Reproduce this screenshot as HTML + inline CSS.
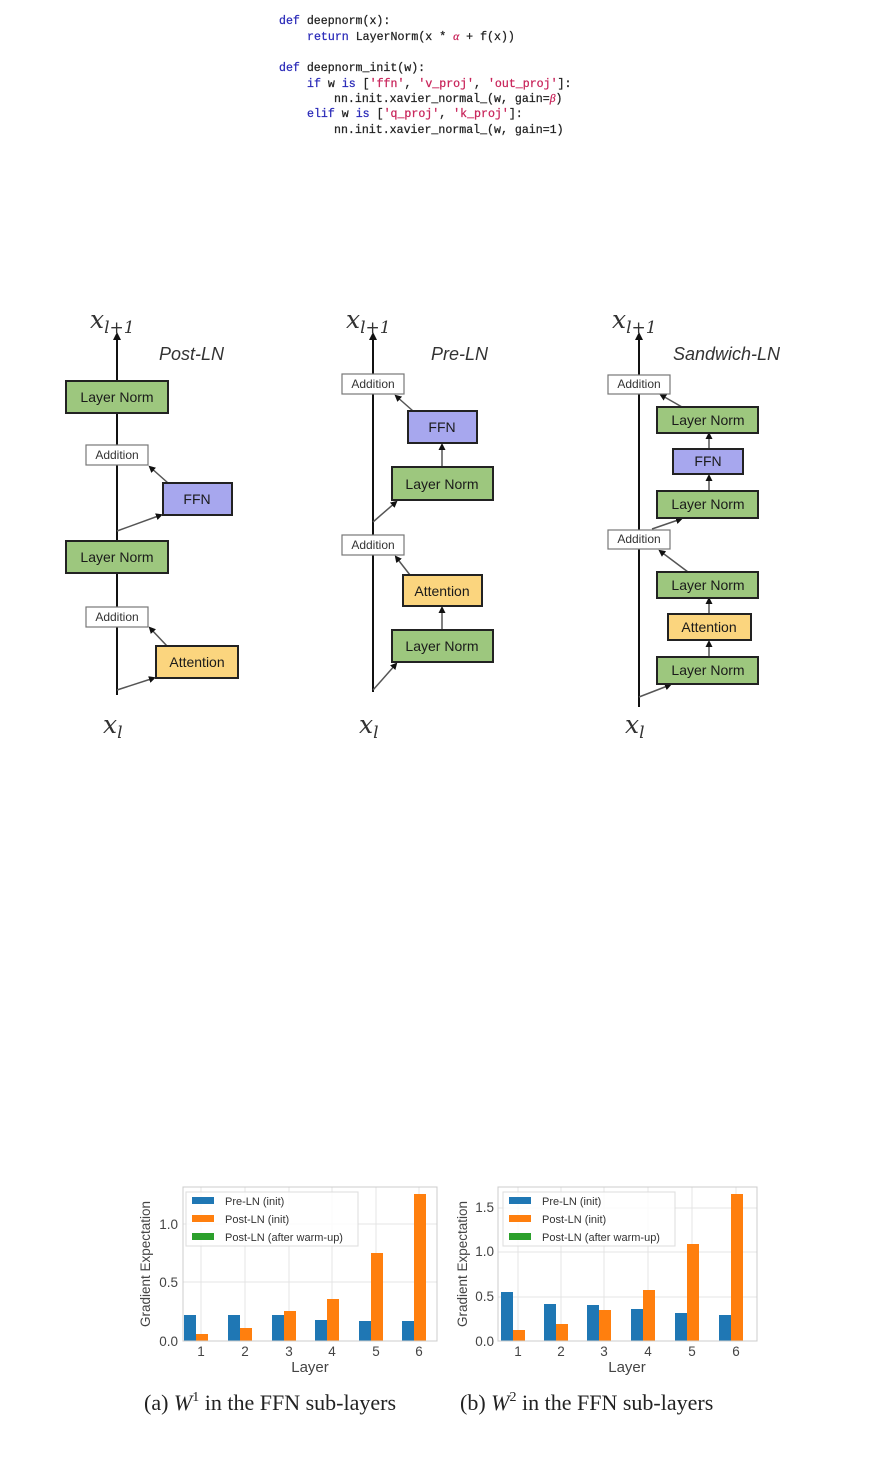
<!DOCTYPE html>
<html><head><meta charset="utf-8"><style>
html,body{margin:0;padding:0;background:#fff;}
svg{display:block;}
.code{font-family:"Liberation Mono",monospace;font-size:11.6px;fill:#222;stroke:#222;stroke-width:0.25px;}
.kw{fill:#2a2ab8;stroke:#2a2ab8;}
.st{fill:#c8245a;stroke:#c8245a;}
.bx{font-family:"Liberation Sans",sans-serif;font-size:14px;fill:#1a1a1a;text-anchor:middle;}
.sm{font-family:"Liberation Sans",sans-serif;font-size:12px;fill:#333;text-anchor:middle;}
.math{font-family:"DejaVu Serif","Liberation Serif",serif;font-style:italic;fill:#333;}
.ttl{font-family:"Liberation Sans",sans-serif;font-style:italic;font-size:18px;fill:#333;}
.ax{font-family:"Liberation Sans",sans-serif;font-size:13.5px;fill:#444;}
.lg{font-family:"Liberation Sans",sans-serif;font-size:11px;fill:#333;}
.cap{font-family:"Liberation Serif",serif;font-size:22px;fill:#222;}
</style></head><body>
<svg width="887" height="1472" viewBox="0 0 887 1472" xmlns="http://www.w3.org/2000/svg">
<defs>
<marker id="ah" markerWidth="8" markerHeight="8" refX="6" refY="4" orient="auto" markerUnits="userSpaceOnUse">
<path d="M0,0 L8,4 L0,8 z" fill="#111"/></marker>
<marker id="ahs" markerWidth="7" markerHeight="7" refX="5" refY="3.5" orient="auto" markerUnits="userSpaceOnUse">
<path d="M0,0 L7,3.5 L0,7 z" fill="#111"/></marker>
</defs>

<!-- code -->
<text class="code" x="279" y="24" xml:space="preserve"><tspan class="kw">def</tspan> deepnorm(x):</text>
<text class="code" x="307" y="40" xml:space="preserve"><tspan class="kw">return</tspan> LayerNorm(x * <tspan class="st" font-family="Liberation Serif" font-style="italic">α</tspan> + f(x))</text>
<text class="code" x="279" y="71" xml:space="preserve"><tspan class="kw">def</tspan> deepnorm_init(w):</text>
<text class="code" x="307" y="87" xml:space="preserve"><tspan class="kw">if</tspan> w <tspan class="kw">is</tspan> [<tspan class="st">'ffn'</tspan>, <tspan class="st">'v_proj'</tspan>, <tspan class="st">'out_proj'</tspan>]:</text>
<text class="code" x="334" y="102" xml:space="preserve">nn.init.xavier_normal_(w, gain=<tspan class="st" font-family="Liberation Serif" font-style="italic">β</tspan>)</text>
<text class="code" x="307" y="117" xml:space="preserve"><tspan class="kw">elif</tspan> w <tspan class="kw">is</tspan> [<tspan class="st">'q_proj'</tspan>, <tspan class="st">'k_proj'</tspan>]:</text>
<text class="code" x="334" y="133" xml:space="preserve">nn.init.xavier_normal_(w, gain=1)</text>

<g stroke="#111" stroke-width="2" fill="none">
<line x1="117" y1="695" x2="117" y2="334" marker-end="url(#ah)"/>
</g>
<g stroke="#555" stroke-width="1.5" fill="none">
<line x1="117" y1="690" x2="154" y2="678" marker-end="url(#ahs)"/>
<line x1="167" y1="646" x2="150" y2="628" marker-end="url(#ahs)"/>
<line x1="117" y1="531" x2="161" y2="515" marker-end="url(#ahs)"/>
<line x1="168" y1="483" x2="150" y2="467" marker-end="url(#ahs)"/>
</g>
<g stroke="#222" stroke-width="2">
<rect x="66" y="381" width="102" height="32" fill="#9dc77e"/>
<rect x="66" y="541" width="102" height="32" fill="#9dc77e"/>
<rect x="163" y="483" width="69" height="32" fill="#a7a7ee"/>
<rect x="156" y="646" width="82" height="32" fill="#fbd57e"/>
</g>
<g stroke="#777" stroke-width="1.2" fill="#fff">
<rect x="86" y="445" width="62" height="20"/>
<rect x="86" y="607" width="62" height="20"/>
</g>
<text class="bx" x="117" y="402">Layer Norm</text>
<text class="bx" x="117" y="562">Layer Norm</text>
<text class="bx" x="197" y="504">FFN</text>
<text class="bx" x="197" y="667">Attention</text>
<text class="sm" x="117" y="459">Addition</text>
<text class="sm" x="117" y="621">Addition</text>
<text class="math" x="90" y="328" font-size="25">x<tspan font-size="17" dy="5">l+1</tspan></text>
<text class="math" x="103" y="733" font-size="25">x<tspan font-size="17" dy="5">l</tspan></text>
<text class="ttl" x="159" y="360">Post-LN</text>

<!-- Pre-LN -->
<g stroke="#111" stroke-width="2" fill="none">
<line x1="373" y1="692" x2="373" y2="334" marker-end="url(#ah)"/>
</g>
<g stroke="#555" stroke-width="1.5" fill="none">
<line x1="373" y1="690" x2="396" y2="664" marker-end="url(#ahs)"/>
<line x1="442" y1="630" x2="442" y2="608" marker-end="url(#ahs)"/>
<line x1="410" y1="575" x2="396" y2="557" marker-end="url(#ahs)"/>
<line x1="373" y1="522" x2="396" y2="502" marker-end="url(#ahs)"/>
<line x1="442" y1="467" x2="442" y2="445" marker-end="url(#ahs)"/>
<line x1="413" y1="411" x2="396" y2="396" marker-end="url(#ahs)"/>
</g>
<g stroke="#222" stroke-width="2">
<rect x="392" y="467" width="101" height="33" fill="#9dc77e"/>
<rect x="392" y="630" width="101" height="32" fill="#9dc77e"/>
<rect x="408" y="411" width="69" height="32" fill="#a7a7ee"/>
<rect x="403" y="575" width="79" height="31" fill="#fbd57e"/>
</g>
<g stroke="#777" stroke-width="1.2" fill="#fff">
<rect x="342" y="374" width="62" height="20"/>
<rect x="342" y="535" width="62" height="20"/>
</g>
<text class="bx" x="442" y="489">Layer Norm</text>
<text class="bx" x="442" y="651">Layer Norm</text>
<text class="bx" x="442" y="432">FFN</text>
<text class="bx" x="442" y="596">Attention</text>
<text class="sm" x="373" y="388">Addition</text>
<text class="sm" x="373" y="549">Addition</text>
<text class="math" x="346" y="328" font-size="25">x<tspan font-size="17" dy="5">l+1</tspan></text>
<text class="math" x="359" y="733" font-size="25">x<tspan font-size="17" dy="5">l</tspan></text>
<text class="ttl" x="431" y="360">Pre-LN</text>

<!-- Sandwich-LN -->
<g stroke="#111" stroke-width="2" fill="none">
<line x1="639" y1="707" x2="639" y2="334" marker-end="url(#ah)"/>
</g>
<g stroke="#555" stroke-width="1.5" fill="none">
<line x1="639" y1="697" x2="670" y2="685" marker-end="url(#ahs)"/>
<line x1="709" y1="657" x2="709" y2="642" marker-end="url(#ahs)"/>
<line x1="709" y1="614" x2="709" y2="599" marker-end="url(#ahs)"/>
<line x1="688" y1="572" x2="660" y2="551" marker-end="url(#ahs)"/>
<line x1="652" y1="529" x2="681" y2="519" marker-end="url(#ahs)"/>
<line x1="709" y1="491" x2="709" y2="476" marker-end="url(#ahs)"/>
<line x1="709" y1="449" x2="709" y2="434" marker-end="url(#ahs)"/>
<line x1="682" y1="407" x2="661" y2="395" marker-end="url(#ahs)"/>
</g>
<g stroke="#222" stroke-width="2">
<rect x="657" y="407" width="101" height="26" fill="#9dc77e"/>
<rect x="657" y="491" width="101" height="27" fill="#9dc77e"/>
<rect x="657" y="572" width="101" height="26" fill="#9dc77e"/>
<rect x="657" y="657" width="101" height="27" fill="#9dc77e"/>
<rect x="673" y="449" width="70" height="25" fill="#a7a7ee"/>
<rect x="668" y="614" width="83" height="26" fill="#fbd57e"/>
</g>
<g stroke="#777" stroke-width="1.2" fill="#fff">
<rect x="608" y="375" width="62" height="19"/>
<rect x="608" y="530" width="62" height="19"/>
</g>
<text class="bx" x="708" y="425">Layer Norm</text>
<text class="bx" x="708" y="509">Layer Norm</text>
<text class="bx" x="708" y="590">Layer Norm</text>
<text class="bx" x="708" y="675">Layer Norm</text>
<text class="bx" x="708" y="466">FFN</text>
<text class="bx" x="709" y="632">Attention</text>
<text class="sm" x="639" y="388">Addition</text>
<text class="sm" x="639" y="543">Addition</text>
<text class="math" x="612" y="328" font-size="25">x<tspan font-size="17" dy="5">l+1</tspan></text>
<text class="math" x="625" y="733" font-size="25">x<tspan font-size="17" dy="5">l</tspan></text>
<text class="ttl" x="673" y="360">Sandwich-LN</text>

<!-- Left chart -->
<g stroke="#e4e4e4" stroke-width="1">
<line x1="183" y1="1282" x2="437" y2="1282"/><line x1="183" y1="1224" x2="437" y2="1224"/>
<line x1="201" y1="1187" x2="201" y2="1341"/><line x1="245" y1="1187" x2="245" y2="1341"/>
<line x1="289" y1="1187" x2="289" y2="1341"/><line x1="332" y1="1187" x2="332" y2="1341"/>
<line x1="376" y1="1187" x2="376" y2="1341"/><line x1="419" y1="1187" x2="419" y2="1341"/>
</g>
<g fill="#1f77b4">
<rect x="184" y="1315" width="12" height="26"/><rect x="228" y="1315" width="12" height="26"/>
<rect x="272" y="1315" width="12" height="26"/><rect x="315" y="1320" width="12" height="21"/>
<rect x="359" y="1321" width="12" height="20"/><rect x="402" y="1321" width="12" height="20"/>
</g>
<g fill="#ff7f0e">
<rect x="196" y="1334" width="12" height="7"/><rect x="240" y="1328" width="12" height="13"/>
<rect x="284" y="1311" width="12" height="30"/><rect x="327" y="1299" width="12" height="42"/>
<rect x="371" y="1253" width="12" height="88"/><rect x="414" y="1194" width="12" height="147"/>
</g>
<rect x="183" y="1187" width="254" height="154" fill="none" stroke="#ccc"/>
<rect x="186" y="1192" width="172" height="54" fill="#fff" fill-opacity="0.85" stroke="#ddd"/>
<rect x="192" y="1197" width="22" height="7" fill="#1f77b4"/><text class="lg" x="225" y="1205">Pre-LN (init)</text>
<rect x="192" y="1215" width="22" height="7" fill="#ff7f0e"/><text class="lg" x="225" y="1223">Post-LN (init)</text>
<rect x="192" y="1233" width="22" height="7" fill="#2ca02c"/><text class="lg" x="225" y="1241">Post-LN (after warm-up)</text>
<g class="ax" text-anchor="end"><text x="178" y="1346">0.0</text><text x="178" y="1287">0.5</text><text x="178" y="1229">1.0</text></g>
<g class="ax" text-anchor="middle"><text x="201" y="1356">1</text><text x="245" y="1356">2</text><text x="289" y="1356">3</text><text x="332" y="1356">4</text><text x="376" y="1356">5</text><text x="419" y="1356">6</text>
<text x="310" y="1372" font-size="15">Layer</text></g>
<text class="ax" font-size="15" transform="translate(150,1264) rotate(-90)" text-anchor="middle">Gradient Expectation</text>

<!-- Right chart -->
<g stroke="#e4e4e4" stroke-width="1">
<line x1="498" y1="1297" x2="757" y2="1297"/><line x1="498" y1="1252" x2="757" y2="1252"/><line x1="498" y1="1208" x2="757" y2="1208"/>
<line x1="518" y1="1187" x2="518" y2="1341"/><line x1="561" y1="1187" x2="561" y2="1341"/>
<line x1="604" y1="1187" x2="604" y2="1341"/><line x1="648" y1="1187" x2="648" y2="1341"/>
<line x1="692" y1="1187" x2="692" y2="1341"/><line x1="736" y1="1187" x2="736" y2="1341"/>
</g>
<g fill="#1f77b4">
<rect x="501" y="1292" width="12" height="49"/><rect x="544" y="1304" width="12" height="37"/>
<rect x="587" y="1305" width="12" height="36"/><rect x="631" y="1309" width="12" height="32"/>
<rect x="675" y="1313" width="12" height="28"/><rect x="719" y="1315" width="12" height="26"/>
</g>
<g fill="#ff7f0e">
<rect x="513" y="1330" width="12" height="11"/><rect x="556" y="1324" width="12" height="17"/>
<rect x="599" y="1310" width="12" height="31"/><rect x="643" y="1290" width="12" height="51"/>
<rect x="687" y="1244" width="12" height="97"/><rect x="731" y="1194" width="12" height="147"/>
</g>
<rect x="498" y="1187" width="259" height="154" fill="none" stroke="#ccc"/>
<rect x="503" y="1192" width="172" height="54" fill="#fff" fill-opacity="0.85" stroke="#ddd"/>
<rect x="509" y="1197" width="22" height="7" fill="#1f77b4"/><text class="lg" x="542" y="1205">Pre-LN (init)</text>
<rect x="509" y="1215" width="22" height="7" fill="#ff7f0e"/><text class="lg" x="542" y="1223">Post-LN (init)</text>
<rect x="509" y="1233" width="22" height="7" fill="#2ca02c"/><text class="lg" x="542" y="1241">Post-LN (after warm-up)</text>
<g class="ax" text-anchor="end"><text x="494" y="1346">0.0</text><text x="494" y="1301">0.5</text><text x="494" y="1256">1.0</text><text x="494" y="1212">1.5</text></g>
<g class="ax" text-anchor="middle"><text x="518" y="1356">1</text><text x="561" y="1356">2</text><text x="604" y="1356">3</text><text x="648" y="1356">4</text><text x="692" y="1356">5</text><text x="736" y="1356">6</text>
<text x="627" y="1372" font-size="15">Layer</text></g>
<text class="ax" font-size="15" transform="translate(467,1264) rotate(-90)" text-anchor="middle">Gradient Expectation</text>

<text class="cap" x="144" y="1410">(a) <tspan font-style="italic">W</tspan><tspan font-size="14" dy="-9">1</tspan><tspan dy="9"> in the FFN sub-layers</tspan></text>
<text class="cap" x="460" y="1410">(b) <tspan font-style="italic">W</tspan><tspan font-size="14" dy="-9">2</tspan><tspan dy="9"> in the FFN sub-layers</tspan></text>
</svg>
</body></html>
